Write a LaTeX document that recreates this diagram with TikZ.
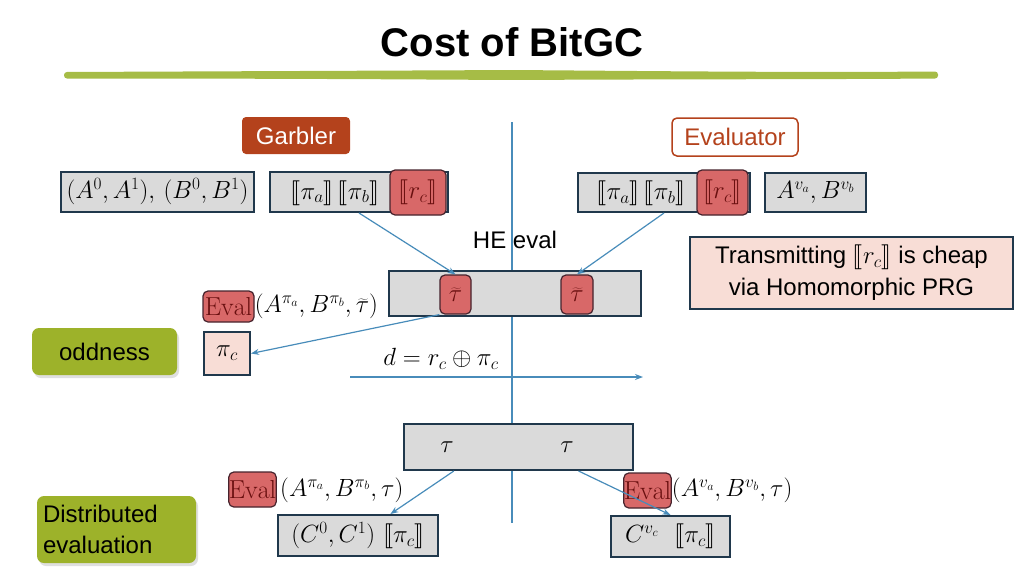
\documentclass[tikz,border=0pt]{standalone}
\usepackage{fontspec}
\usepackage{stmaryrd}
\usetikzlibrary{arrows.meta,calc,shadows}
\newfontfamily\labelfont{Liberation Sans}
\definecolor{navyb}{RGB}{32,56,76}
\definecolor{lgray}{RGB}{218,218,218}
\definecolor{redfill}{RGB}{216,104,104}
\definecolor{redline}{RGB}{70,35,45}
\definecolor{darkred}{RGB}{105,15,15}
\definecolor{arrowblue}{RGB}{72,140,186}
\definecolor{olivec}{RGB}{157,178,42}
\definecolor{greenline}{RGB}{166,188,70}
\definecolor{pinkf}{RGB}{248,221,214}
\definecolor{garb}{RGB}{180,66,28}
\tikzset{
  graybox/.style={draw=navyb, fill=lgray, line width=2pt, inner sep=0pt},
  pinkbox/.style={draw=navyb, fill=pinkf, line width=2pt, inner sep=0pt},
  redbox/.style={draw=redline, fill=redfill, rounded corners=5pt, line width=1.2pt, inner sep=0pt, text=darkred},
  arr/.style={draw=arrowblue, line width=1.2pt, -{Stealth[length=8pt,width=6pt]}},
  oliveb/.style={fill=olivec, rounded corners=7pt, inner sep=0pt, drop shadow={shadow xshift=2pt, shadow yshift=-3pt, opacity=0.25}},
  mtxt/.style={font=\fontsize{26}{30}\selectfont, inner sep=0pt},
  lbl/.style={font=\labelfont\fontsize{24}{29}\selectfont, inner sep=0pt}
}
\begin{document}
\begin{tikzpicture}[x=1pt,y=-1pt]
\useasboundingbox (0,0) rectangle (1024,576);
% title
\node[font=\labelfont\bfseries\fontsize{40}{46}\selectfont] (title) at (512,42) {Cost of BitGC};
\fill[greenline, rounded corners=3pt] (64,72) .. controls (300,71) and (420,70.5) .. (512,70) .. controls (700,71.5) and (800,72.5) .. (938,71.5) -- (938,78.5) .. controls (800,79.5) and (700,79) .. (512,80) .. controls (420,79.5) and (300,78.5) .. (64,78.5) -- cycle;
% headers
\node[fill=garb, rounded corners=4pt, minimum width=108, minimum height=37, lbl, text=white] (garbler) at (296,135.5) {Garbler};
\node[draw=garb, fill=white, line width=1.5pt, rounded corners=5pt, minimum width=126, minimum height=38, lbl, text=garb] (evaluator) at (735,137) {Evaluator};
% vertical divider
\coordinate (vt) at (512,122);
\coordinate (vb) at (512,523);
\draw[arrowblue, line width=1.3pt] (vt) -- (vb);
% top row garbler
\node[graybox, minimum width=193, minimum height=40, mtxt] (ab) at (157.5,192) {$(A^0,A^1),\,(B^0,B^1)$};
\node[graybox, minimum width=178, minimum height=40] (g2) at (359,192) {};
\node[mtxt] (pa1) at (335,193) {$\llbracket\pi_a\rrbracket\,\llbracket\pi_b\rrbracket$};
\node[redbox, minimum width=56, minimum height=45, mtxt] (rc1) at (418,192.5) {$\llbracket r_c\rrbracket$};
% top row evaluator
\node[graybox, minimum width=172, minimum height=39] (g3) at (664,192.5) {};
\node[mtxt] (pa2) at (641,193.5) {$\llbracket\pi_a\rrbracket\,\llbracket\pi_b\rrbracket$};
\node[redbox, minimum width=51, minimum height=45, mtxt] (rc2) at (722.5,192.5) {$\llbracket r_c\rrbracket$};
\node[graybox, minimum width=101, minimum height=39, mtxt] (av) at (815.5,192.5) {$A^{v_a},B^{v_b}$};
% HE eval
\node[lbl] (he) at (515,240) {HE eval};
% note
\node[pinkbox, minimum width=323, minimum height=72, lbl, align=center] (note) at (851.5,273) {Transmitting $\llbracket r_c\rrbracket$ is cheap\\[3pt]via Homomorphic PRG};
% wide box
\node[graybox, minimum width=252, minimum height=45] (wide) at (515,293.5) {};
\node[redbox, minimum width=31, minimum height=39, mtxt] (tl) at (455.5,294.5) {$\widetilde{\tau}$};
\node[redbox, minimum width=32, minimum height=39, mtxt] (tr) at (577,294.5) {$\widetilde{\tau}$};
\draw[arr] (g2.south) -- (tl.north);
\draw[arr] (g3.south) -- (tr.north);
% eval row 1
\node[redbox, minimum width=51, minimum height=31, mtxt] (ev1) at (228.5,306.5) {$\mathrm{Eval}$};
\node[mtxt, anchor=west] (ev1a) at (ev1.east) {$(A^{\pi_a},B^{\pi_b},\widetilde{\tau})$};
% oddness
\node[oliveb, minimum width=145, minimum height=47, lbl] (odd) at (104.5,351.5) {oddness};
\node[pinkbox, minimum width=46, minimum height=43, mtxt] (pic) at (227,353.5) {$\pi_c$};
\draw[arr] (tl.south west) -- (pic.east);
% d
\node[mtxt] (dd) at (441,359) {$d = r_c \oplus \pi_c$};
\coordinate (hl) at (350,377);
\coordinate (hr) at (643,377);
\draw[arr] (hl) -- (hr);
% lower box
\node[graybox, minimum width=229, minimum height=46] (low) at (518.5,447) {};
\node[mtxt] (t1) at (447,447) {$\tau$};
\node[mtxt] (t2) at (567,447) {$\tau$};
% lower left
\node[redbox, minimum width=47, minimum height=35, mtxt] (ev2) at (252.5,489.5) {$\mathrm{Eval}$};
\node[mtxt, anchor=west] (ev2a) at (280,490) {$(A^{\pi_a},B^{\pi_b},\tau)$};
\node[graybox, minimum width=160, minimum height=41, mtxt] (cl) at (358,535.5) {$(C^0,C^1)\ \llbracket\pi_c\rrbracket$};
% lower right
\node[redbox, minimum width=45, minimum height=35, mtxt] (ev3) at (647.5,490.5) {$\mathrm{Eval}$};
\node[mtxt, anchor=west] (ev3a) at (ev3.east) {$(A^{v_a},B^{v_b},\tau)$};
\node[graybox, minimum width=119, minimum height=41, mtxt] (cr) at (670.5,536.5) {$C^{v_c}\ \ \llbracket\pi_c\rrbracket$};
\draw[arr] ($(low.south west)!0.22!(low.south east)$) -- ($(cl.north west)!0.7!(cl.north east)$);
\draw[arr] ($(low.south west)!0.76!(low.south east)$) -- (cr.north);
% distributed
\node[oliveb, minimum width=159, minimum height=67, lbl, align=left, text width=147] (dist) at (116.5,529.5) {Distributed\\[2pt]evaluation};
\end{tikzpicture}
\end{document}
